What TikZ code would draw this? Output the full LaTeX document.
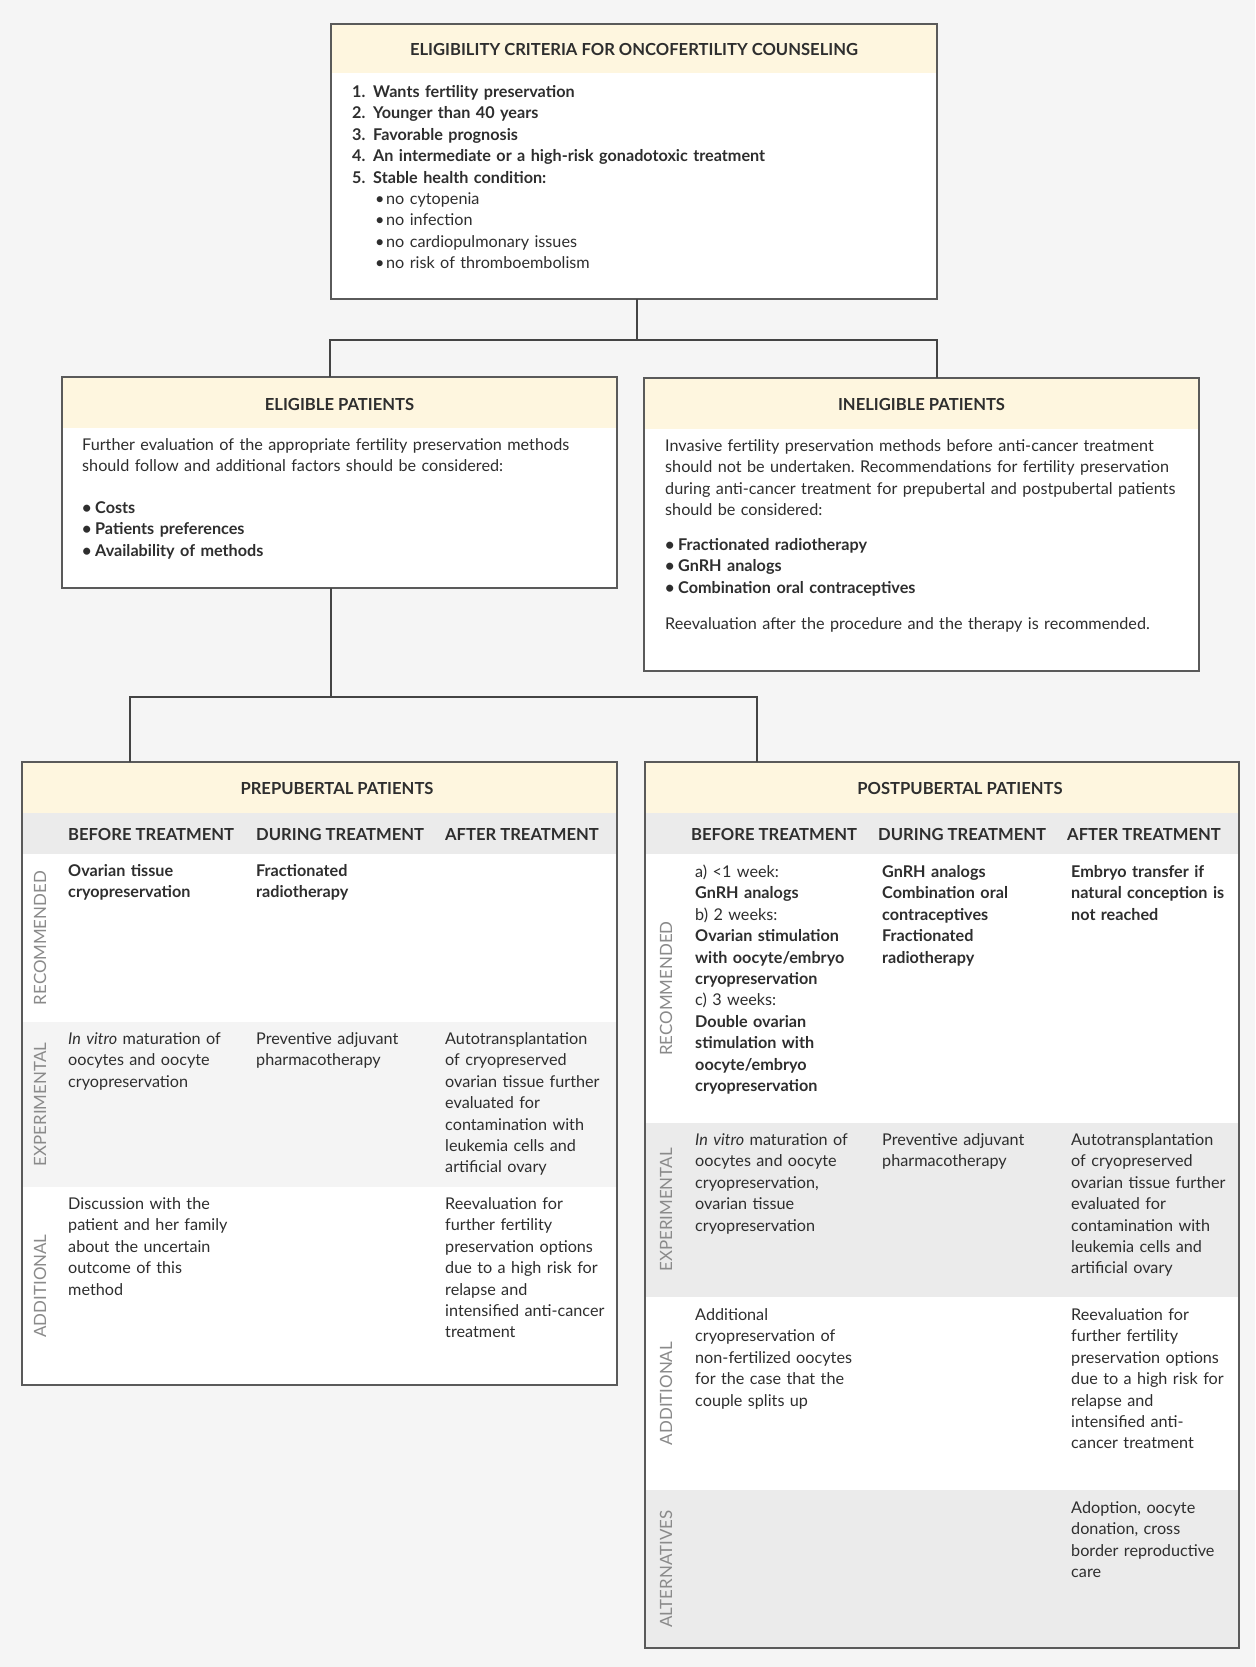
\documentclass[tikz,border=0pt]{standalone}
\usepackage{fontspec}
\setmainfont{Lato}
\frenchspacing
\definecolor{bgc}{HTML}{F5F5F5}
\definecolor{cream}{HTML}{FEF6DF}
\definecolor{bandc}{HTML}{EBEBEB}
\definecolor{lightrow}{HTML}{F4F4F4}
\definecolor{framec}{HTML}{5A5A5A}
\definecolor{textc}{HTML}{2E2E2E}
\definecolor{labelc}{HTML}{8A8A8A}
\definecolor{connc}{HTML}{444444}
\begin{document}
\begin{tikzpicture}[x=1pt,y=-1pt,
  boxnode/.style={fill=white, inner sep=0pt, outer sep=0pt, anchor=north west},
  boxframe/.style={draw=framec, line width=1.3pt},
  conn/.style={draw=connc, line width=1.3pt},
  ttl/.style={font=\fontsize{16.6}{18}\selectfont\bfseries, text=textc, inner sep=0pt},
  colhead/.style={anchor=base west, font=\fontsize{16.6}{18}\selectfont\bfseries, text=textc, inner sep=0pt},
  cell/.style={anchor=base west, inner sep=0pt, text width=#1, align=left, font=\fontsize{16.2}{21.4}\selectfont, text=textc},
  cell/.default=190pt,
  boldcell/.style={font=\fontsize{16.2}{21.4}\selectfont\bfseries},
  rowlabel/.style={rotate=90, font=\fontsize{16.9}{18}\selectfont, text=labelc, inner sep=0pt},
]
\fill[bgc] (0,0) rectangle (1255,1667);
\useasboundingbox (0,0) rectangle (1255,1667);

% ---------- top box ----------
\node[boxnode, minimum width=606pt, minimum height=275pt] (top) at (331,24) {};
\fill[cream] (331,24) rectangle (937,73);
\draw[boxframe] (top.north west) rectangle (top.south east);
\node[ttl] (toptitle) at (634,50) {ELIGIBILITY CRITERIA FOR ONCOFERTILITY COUNSELING};
\node[cell=580pt] (toplist) at (352,97.5) {{\bfseries
\makebox[21pt][l]{1.}Wants fertility preservation\\
\makebox[21pt][l]{2.}Younger than 40 years\\
\makebox[21pt][l]{3.}Favorable prognosis\\
\makebox[21pt][l]{4.}An intermediate or a high-risk gonadotoxic treatment\\
\makebox[21pt][l]{5.}Stable health condition:}\\
\hspace*{23pt}\makebox[11pt][l]{•}no cytopenia\\
\hspace*{23pt}\makebox[11pt][l]{•}no infection\\
\hspace*{23pt}\makebox[11pt][l]{•}no cardiopulmonary issues\\
\hspace*{23pt}\makebox[11pt][l]{•}no risk of thromboembolism};

% ---------- eligible ----------
\node[boxnode, minimum width=555pt, minimum height=211pt] (elig) at (62,377) {};
\fill[cream] (62,377) rectangle (617,428);
\draw[boxframe] (elig.north west) rectangle (elig.south east);
\node[ttl] (eligtitle) at (339.5,404) {ELIGIBLE PATIENTS};
\node[cell=530pt] (eligtext) at (82,450.5) {Further evaluation of the appropriate fertility preservation methods\\should follow and additional factors should be considered:};
\node[cell=400pt, boldcell] (eliglist) at (82,513.5) {\makebox[13pt][l]{•}Costs\\\makebox[13pt][l]{•}Patients preferences\\\makebox[13pt][l]{•}Availability of methods};

% ---------- ineligible ----------
\node[boxnode, minimum width=555pt, minimum height=293pt] (inel) at (644,378) {};
\fill[cream] (644,378) rectangle (1199,429);
\draw[boxframe] (inel.north west) rectangle (inel.south east);
\node[ttl] (ineltitle) at (921.5,404) {INELIGIBLE PATIENTS};
\node[cell=540pt] (ineltext) at (665,451.5) {Invasive fertility preservation methods before anti-cancer treatment\\should not be undertaken. Recommendations for fertility preservation\\during anti-cancer treatment for prepubertal and postpubertal patients\\should be considered:};
\node[cell=400pt, boldcell] (inellist) at (665,550.5) {\makebox[13pt][l]{•}Fractionated radiotherapy\\\makebox[13pt][l]{•}GnRH analogs\\\makebox[13pt][l]{•}Combination oral contraceptives};
\node[cell=540pt] (inelreeval) at (665,629.5) {Reevaluation after the procedure and the therapy is recommended.};

% ---------- prepubertal ----------
\node[boxnode, minimum width=595pt, minimum height=623pt] (pre) at (22,762) {};
\fill[cream] (22,762) rectangle (617,813);
\fill[bandc] (22,813) rectangle (617,854);
\fill[lightrow] (22,1022) rectangle (617,1187);
\draw[boxframe] (pre.north west) rectangle (pre.south east);
\node[ttl] (pretitle) at (337,788) {PREPUBERTAL PATIENTS};
\node[colhead] (preh1) at (68,840.5) {BEFORE TREATMENT};
\node[colhead] (preh2) at (256,840.5) {DURING TREATMENT};
\node[colhead] (preh3) at (445,840.5) {AFTER TREATMENT};
\node[rowlabel] (prel1) at (40,938) {RECOMMENDED};
\node[rowlabel] (prel2) at (40,1104.5) {EXPERIMENTAL};
\node[rowlabel] (prel3) at (40,1286) {ADDITIONAL};
\node[cell, boldcell] (prer1c1) at (68,876.5) {Ovarian tissue\\cryopreservation};
\node[cell, boldcell] (prer1c2) at (256,876.5) {Fractionated\\radiotherapy};
\node[cell] (prer2c1) at (68,1044.5) {\textit{In vitro} maturation of\\oocytes and oocyte\\cryopreservation};
\node[cell] (prer2c2) at (256,1044.5) {Preventive adjuvant\\pharmacotherapy};
\node[cell] (prer2c3) at (445,1044.5) {Autotransplantation\\of cryopreserved\\ovarian tissue further\\evaluated for\\contamination with\\leukemia cells and\\artificial ovary};
\node[cell] (prer3c1) at (68,1209.5) {Discussion with the\\patient and her family\\about the uncertain\\outcome of this\\method};
\node[cell] (prer3c3) at (445,1209.5) {Reevaluation for\\further fertility\\preservation options\\due to a high risk for\\relapse and\\intensified anti-cancer\\treatment};

% ---------- postpubertal ----------
\node[boxnode, minimum width=594pt, minimum height=886pt] (post) at (645,762) {};
\fill[cream] (645,762) rectangle (1239,813);
\fill[bandc] (645,813) rectangle (1239,854);
\fill[bandc] (645,1123) rectangle (1239,1297);
\fill[bandc] (645,1490) rectangle (1239,1648);
\draw[boxframe] (post.north west) rectangle (post.south east);
\node[ttl] (posttitle) at (960,788) {POSTPUBERTAL PATIENTS};
\node[colhead] (posth1) at (691,840.5) {BEFORE TREATMENT};
\node[colhead] (posth2) at (878,840.5) {DURING TREATMENT};
\node[colhead] (posth3) at (1067,840.5) {AFTER TREATMENT};
\node[rowlabel] (postl1) at (666,988.5) {RECOMMENDED};
\node[rowlabel] (postl2) at (666,1210) {EXPERIMENTAL};
\node[rowlabel] (postl3) at (666,1393.5) {ADDITIONAL};
\node[rowlabel] (postl4) at (666,1569) {ALTERNATIVES};
\node[cell] (postr1c1) at (695,877.5) {a) <1 week:\\\textbf{GnRH analogs}\\b) 2 weeks:\\\textbf{Ovarian stimulation}\\\textbf{with oocyte/embryo}\\\textbf{cryopreservation}\\c) 3 weeks:\\\textbf{Double ovarian}\\\textbf{stimulation with}\\\textbf{oocyte/embryo}\\\textbf{cryopreservation}};
\node[cell, boldcell] (postr1c2) at (882,877.5) {GnRH analogs\\Combination oral\\contraceptives\\Fractionated\\radiotherapy};
\node[cell, boldcell] (postr1c3) at (1071,877.5) {Embryo transfer if\\natural conception is\\not reached};
\node[cell] (postr2c1) at (695,1145.5) {\textit{In vitro} maturation of\\oocytes and oocyte\\cryopreservation,\\ovarian tissue\\cryopreservation};
\node[cell] (postr2c2) at (882,1145.5) {Preventive adjuvant\\pharmacotherapy};
\node[cell] (postr2c3) at (1071,1145.5) {Autotransplantation\\of cryopreserved\\ovarian tissue further\\evaluated for\\contamination with\\leukemia cells and\\artificial ovary};
\node[cell] (postr3c1) at (695,1320.5) {Additional\\cryopreservation of\\non-fertilized oocytes\\for the case that the\\couple splits up};
\node[cell] (postr3c3) at (1071,1320.5) {Reevaluation for\\further fertility\\preservation options\\due to a high risk for\\relapse and\\intensified anti-\\cancer treatment};
\node[cell] (postr4c3) at (1071,1513.5) {Adoption, oocyte\\donation, cross\\border reproductive\\care};

% ---------- connectors ----------
\coordinate (c1) at (637,340);
\coordinate (c2) at (330,340);
\coordinate (c3) at (937,340);
\coordinate (c4) at (331,697);
\coordinate (c5) at (130,697);
\coordinate (c6) at (757,697);
\draw[conn] (top.south -| c1) -- (c1);
\draw[conn] (elig.north -| c2) -- (c2) -- (c3) -- (inel.north -| c3);
\draw[conn] (elig.south -| c4) -- (c4);
\draw[conn] (pre.north -| c5) -- (c5) -- (c6) -- (post.north -| c6);
\end{tikzpicture}
\end{document}
